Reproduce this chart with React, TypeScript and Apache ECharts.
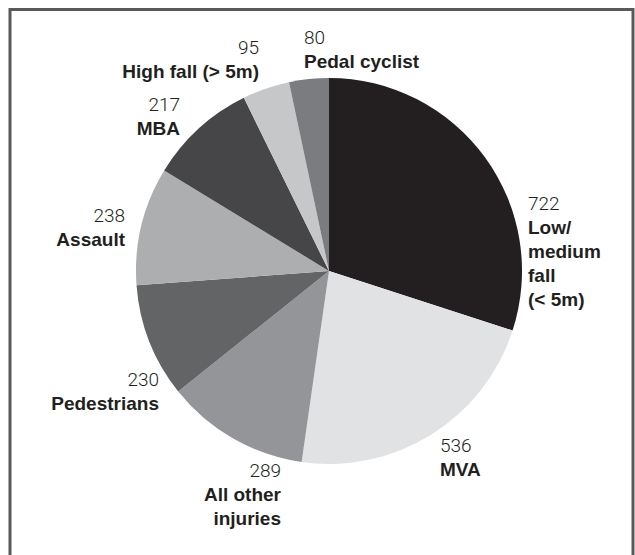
import React, { useEffect, useRef } from "react";
import * as echarts from "echarts";

const categories = [
  "Low/\nmedium\nfall\n(< 5m)",
  "MVA",
  "All other\ninjuries",
  "Pedestrians",
  "Assault",
  "MBA",
  "High fall (> 5m)",
  "Pedal cyclist",
];
const values = [722, 536, 289, 230, 238, 217, 95, 80];
const colors = [
  "#231f20",
  "#e1e2e4",
  "#939598",
  "#636466",
  "#adaeb0",
  "#464648",
  "#c6c7c9",
  "#7b7c7f",
];

// label layout: [x, top, align]
const labelPos: [number, number, "left" | "right"][] = [
  [528, 191, "left"],
  [440, 433, "left"],
  [281, 458, "right"],
  [159, 367, "right"],
  [125, 203, "right"],
  [180, 92, "right"],
  [259, 35, "right"],
  [304, 25, "left"],
];

export default function App() {
  const ref = useRef<HTMLDivElement>(null);
  useEffect(() => {
    document.body.style.margin = "0";
    const chart = echarts.init(ref.current!, null, { renderer: "svg" });
    const data = categories.map((name, i) => {
      const align = labelPos[i][2];
      return {
        name,
        value: values[i],
        itemStyle: { color: colors[i] },
        label: {
          rich: {
            n: {
              fontSize: 19,
              fontFamily: "Roboto",
              fontWeight: 300,
              lineHeight: 24,
              color: "#231f20",
              align,
            },
            l: {
              fontSize: 19,
              fontFamily: "Liberation Sans",
              fontWeight: "bold",
              lineHeight: 24,
              color: "#231f20",
              align,
            },
          },
        },
      };
    });
    chart.setOption({
      animation: false,
      backgroundColor: "#ffffff",
      graphic: [
        {
          type: "rect",
          z: -1,
          shape: { x: 10, y: 9.5, width: 623, height: 600 },
          style: { fill: "none", stroke: "#58595b", lineWidth: 3 },
        },
      ],
      series: [
        {
          type: "pie",
          center: [329, 271],
          radius: 193,
          startAngle: 90,
          clockwise: true,
          avoidLabelOverlap: false,
          itemStyle: { borderWidth: 0 },
          emphasis: { disabled: true },
          labelLine: { show: false },
          label: {
            show: true,
            position: "outside",
            formatter: (p: any) =>
              `{n|${p.value}}\n` +
              String(p.name)
                .split("\n")
                .map((s: string) => `{l|${s}}`)
                .join("\n"),
          },
          labelLayout: (params: any) => {
            const pos = labelPos[params.dataIndex];
            return {
              x: pos[0],
              y: pos[1],
              align: pos[2],
              verticalAlign: "top",
              hideOverlap: false,
            };
          },
          data,
        },
      ],
    });
    return () => chart.dispose();
  }, []);
  return (
    <div
      ref={ref}
      style={{ position: "absolute", left: 0, top: 0, width: 635, height: 555 }}
    />
  );
}
